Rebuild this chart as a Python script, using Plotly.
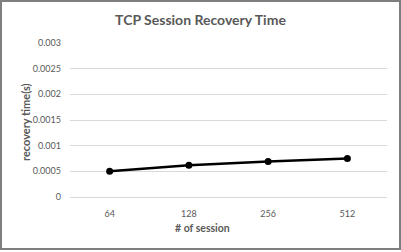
import plotly.graph_objects as go

categories = ["64", "128", "256", "512"]
recovery_time = [0.0005, 0.00062, 0.00069, 0.00075]
y_tickvals = [0, 0.0005, 0.001, 0.0015, 0.002, 0.0025, 0.003]
y_ticktext = ["0", "0.0005", "0.001", "0.0015", "0.002", "0.0025", "0.003"]

W, H = 401, 252
ml, mr, mt, mb = 70, 14, 43, 55
pw = W - ml - mr
ph = H - mt - mb

fig = go.Figure()
fig.add_trace(go.Scatter(
    x=categories, y=recovery_time, mode="lines+markers",
    line=dict(color="black", width=2.5),
    marker=dict(color="black", size=7),
    showlegend=False,
))

font_family = "Lato, Liberation Sans, sans-serif"
fig.update_layout(
    width=W, height=H,
    margin=dict(l=ml, r=mr, t=mt, b=mb),
    paper_bgcolor="white", plot_bgcolor="white",
    font=dict(family=font_family, color="#595959"),
    title=dict(text="<b>TCP Session Recovery Time</b>", x=0.5, xanchor="center",
               y=1 - 20 / H, yanchor="middle",
               font=dict(size=14, color="#595959", family=font_family)),
    xaxis=dict(
        type="category", range=[-0.5, len(categories) - 0.5],
        showgrid=False, zeroline=False,
        showline=True, linecolor="#d9d9d9", linewidth=1,
        tickfont=dict(size=9, color="#595959"),
        ticklabelstandoff=8,
    ),
    yaxis=dict(
        range=[0, 0.003], tickvals=y_tickvals, ticktext=y_ticktext,
        showgrid=True, gridcolor="#d9d9d9", gridwidth=1, zeroline=False,
        tickfont=dict(size=9, color="#595959"),
        ticklabelstandoff=8,
    ),
    annotations=[
        dict(
            text="<b># of session</b>", xref="paper", yref="paper",
            x=(202 - ml) / pw, y=-(228 - (H - mb)) / ph, xanchor="center", yanchor="middle",
            showarrow=False, font=dict(size=10.5, color="#595959", family=font_family),
        ),
        dict(
            text="<b>recovery time(s)</b>", xref="paper", yref="paper",
            x=-(ml - 25) / pw, y=(H - mb - 122) / ph, xanchor="center", yanchor="middle",
            textangle=-90, showarrow=False,
            font=dict(size=11, color="#595959", family=font_family),
        ),
    ],
    shapes=[dict(
        type="rect", xref="paper", yref="paper",
        x0=-(ml - 1) / pw, x1=(W - ml - 1) / pw,
        y0=-(mb - 3) / ph, y1=(H - mb - 1) / ph,
        line=dict(color="#7f7f7f", width=2), fillcolor="rgba(0,0,0,0)", layer="above",
    )],
)

fig.write_html("out.html")
